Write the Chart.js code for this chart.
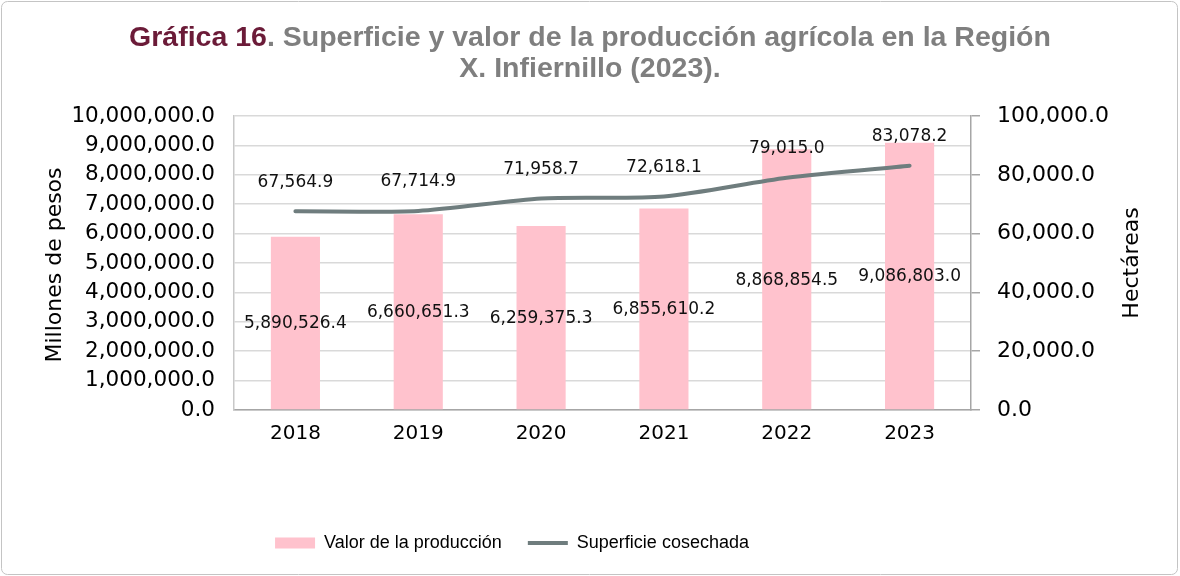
<!DOCTYPE html>
<html><head><meta charset="utf-8">
<script src="https://cdn.jsdelivr.net/npm/chart.js@4"></script>
<style>html,body{margin:0;padding:0;background:#fff}#wrap{width:1180px;height:576px;position:relative}</style>
</head><body><div id="wrap"><canvas id="c" width="1180" height="576"></canvas></div>
<script>
const years = ['2018', '2019', '2020', '2021', '2022', '2023'];
const valorProduccion = [5890526.4, 6660651.3, 6259375.3, 6855610.2, 8868854.5, 9086803.0];
const superficieCosechada = [67564.9, 67714.9, 71958.7, 72618.1, 79015.0, 83078.2];
const seriesNames = ['Valor de la producción', 'Superficie cosechada'];
const axisTitles = ['Millones de pesos', 'Hectáreas'];
const titleLead = 'Gráfica 16';
const titleRest = '. Superficie y valor de la producción agrícola en la Región';
const titleLine2 = 'X. Infiernillo (2023).';

const fmt = v => Number(v).toLocaleString('en-US', {minimumFractionDigits: 1, maximumFractionDigits: 1});
const NUM_FONT = "'DejaVu Sans', sans-serif";
const TXT_FONT = "'Liberation Sans', sans-serif";
const BAR_COLOR = '#FFC2CD';
const LINE_COLOR = '#6F7D7E';

const deco = {
  id: 'deco',
  beforeDraw(chart) {
    const ctx = chart.ctx;
    ctx.save();
    ctx.fillStyle = '#fff';
    ctx.fillRect(0, 0, chart.width, chart.height);
    ctx.strokeStyle = '#C4C4C4';
    ctx.lineWidth = 1;
    ctx.beginPath();
    ctx.roundRect(1.5, 1.5, chart.width - 4, chart.height - 3, 6);
    ctx.stroke();
    ctx.restore();
    const lg = chart.legend;
    if (lg && !lg._shifted) { lg.left -= 78; lg.right -= 78; lg._shifted = true; }
  },
  afterDatasetsDraw(chart) {
    const ctx = chart.ctx;
    ctx.save();
    ctx.font = "17px " + NUM_FONT;
    ctx.fillStyle = '#111';
    ctx.textAlign = 'center';
    ctx.textBaseline = 'middle';
    const barMeta = chart.getDatasetMeta(0);
    barMeta.data.forEach((el, i) => {
      ctx.fillText(fmt(valorProduccion[i]), el.x, (el.y + el.base) / 2 + 1);
    });
    const lineMeta = chart.getDatasetMeta(1);
    lineMeta.data.forEach((el, i) => {
      ctx.fillText(fmt(superficieCosechada[i]), el.x, el.y - 29);
    });
    ctx.restore();
  },
  afterDraw(chart) {
    const ctx = chart.ctx;
    const ca = chart.chartArea;
    ctx.save();
    ctx.font = "bold 28.5px " + TXT_FONT;
    ctx.textBaseline = 'middle';
    const w1 = ctx.measureText(titleLead).width;
    const w2 = ctx.measureText(titleRest).width;
    let x0 = chart.width / 2 - (w1 + w2) / 2;
    ctx.textAlign = 'left';
    ctx.fillStyle = '#6B1B38';
    ctx.fillText(titleLead, x0, 38);
    ctx.fillStyle = '#7F7F7F';
    ctx.fillText(titleRest, x0 + w1, 38);
    ctx.textAlign = 'center';
    ctx.fillText(titleLine2, chart.width / 2, 69);
    ctx.fillStyle = '#000';
    ctx.font = "22px " + NUM_FONT;
    const cy = (ca.top + ca.bottom) / 2;
    ctx.translate(ca.left - 179, cy + 2);
    ctx.rotate(-Math.PI / 2);
    ctx.fillText(axisTitles[0], 0, 0);
    ctx.setTransform(1, 0, 0, 1, 0, 0);
    ctx.translate(ca.right + 161, cy);
    ctx.rotate(-Math.PI / 2);
    ctx.fillText(axisTitles[1], 0, 0);
    ctx.restore();
  }
};

new Chart(document.getElementById('c'), {
  data: {
    labels: years,
    datasets: [
      {type: 'bar', label: seriesNames[0], data: valorProduccion, backgroundColor: BAR_COLOR,
       borderWidth: 0, barPercentage: 0.4, categoryPercentage: 1, yAxisID: 'y', order: 2},
      {type: 'line', label: seriesNames[1], data: superficieCosechada, borderColor: LINE_COLOR,
       backgroundColor: LINE_COLOR, borderWidth: 4, pointRadius: 0, tension: 0.25,
       yAxisID: 'y1', order: 1, borderCapStyle: 'round'}
    ]
  },
  options: {
    responsive: false,
    animation: false,
    devicePixelRatio: 1,
    layout: {padding: {top: 116, left: 0, right: 0, bottom: 14}},
    plugins: {
      title: {display: false},
      tooltip: {enabled: false},
      legend: {
        position: 'bottom',
        labels: {
          usePointStyle: true,
          pointStyleWidth: 40,
          boxHeight: 11,
          padding: 26,
          color: '#000',
          font: {size: 18, family: TXT_FONT},
          generateLabels(chart) {
            return [
              {text: seriesNames[0], fillStyle: BAR_COLOR, strokeStyle: BAR_COLOR, lineWidth: 0, pointStyle: 'rect', datasetIndex: 0, hidden: false},
              {text: seriesNames[1], fillStyle: LINE_COLOR, strokeStyle: LINE_COLOR, lineWidth: 4, pointStyle: 'line', datasetIndex: 1, hidden: false}
            ];
          }
        }
      }
    },
    scales: {
      x: {
        grid: {display: true, drawOnChartArea: false, drawTicks: false},
        border: {color: '#A6A6A6', width: 1.5},
        ticks: {color: '#000', font: {size: 20, family: NUM_FONT}, padding: 12},
        afterFit(s) { s.height = 98; }
      },
      y: {
        position: 'left', min: 0, max: 10000000,
        ticks: {stepSize: 1000000, autoSkip: false, color: '#000', font: {size: 21.5, family: NUM_FONT}, padding: 19,
                callback: v => fmt(v)},
        grid: {color: '#D9D9D9', drawTicks: false, lineWidth: 1.5},
        border: {color: '#C8C8C8', width: 1.5},
        afterFit(s) { s.width = 234; }
      },
      y1: {
        position: 'right', min: 0, max: 100000,
        ticks: {stepSize: 20000, autoSkip: false, color: '#000', font: {size: 22, family: NUM_FONT}, padding: 17,
                callback: v => fmt(v)},
        grid: {drawOnChartArea: false, drawTicks: true, tickLength: 9, color: '#A6A6A6', lineWidth: 1.5},
        border: {color: '#A6A6A6', width: 1.5},
        afterFit(s) { s.width = 1180 - 971; }
      }
    }
  },
  plugins: [deco]
});
</script>
</body></html>
